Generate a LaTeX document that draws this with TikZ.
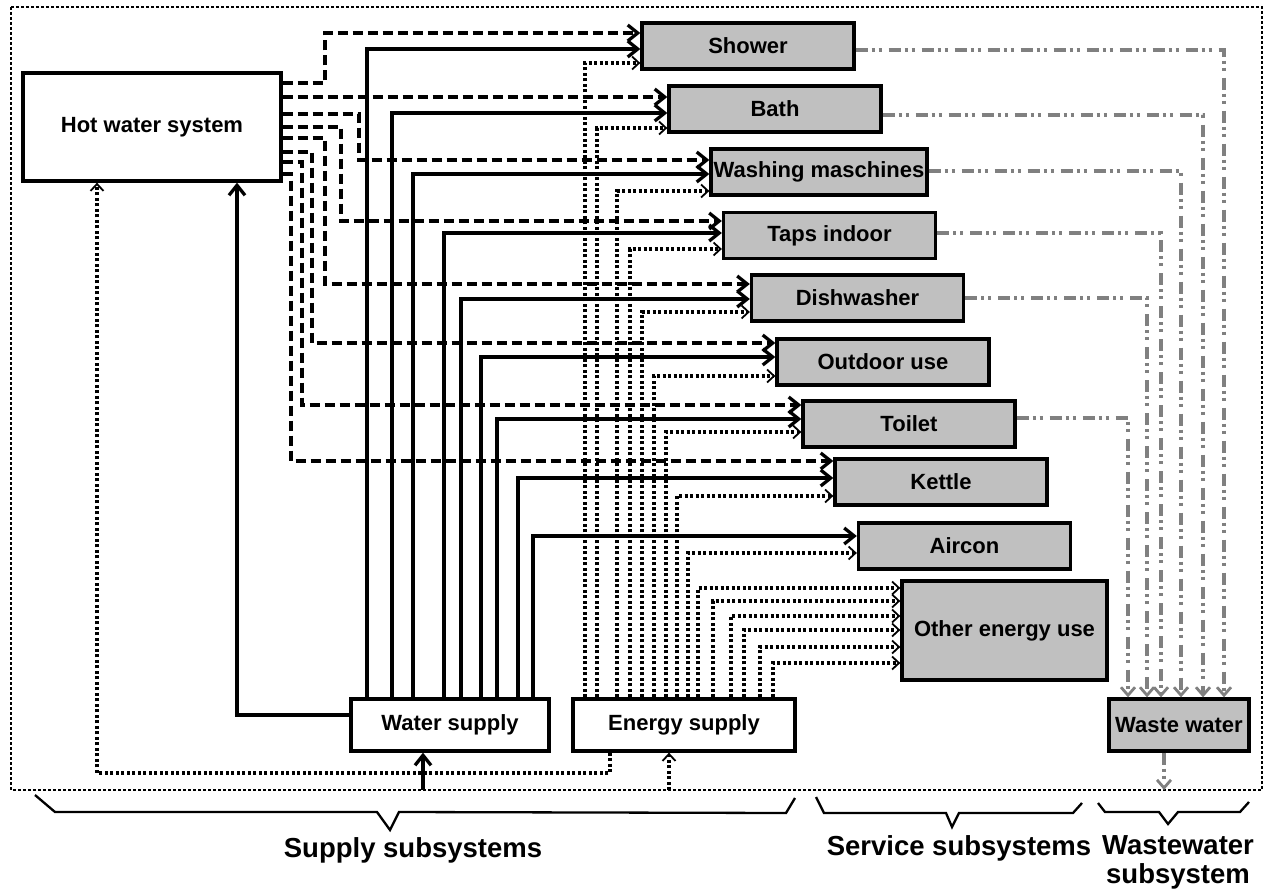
\documentclass[tikz,border=0pt]{standalone}
\usepackage{fontspec}
\setmainfont{Liberation Sans}
\usetikzlibrary{arrows.meta}

\definecolor{servicegray}{HTML}{C0C0C0}
\definecolor{wastegray}{HTML}{808080}

\tikzset{
  box/.style={draw, line width=3.3pt, fill=white, inner sep=0pt,
    font=\fontsize{22}{26}\selectfont\bfseries},
  service/.style={box, fill=servicegray, minimum width=212pt, minimum height=46pt},
  hot/.style={line width=3.3pt, dash pattern=on 10pt off 5pt,
    -{Straight Barb[length=10pt,width=16pt]}},
  cold/.style={line width=3.3pt, -{Straight Barb[length=10pt,width=16pt]}},
  power/.style={line width=3.3pt, dash pattern=on 3pt off 2.5pt,
    -{Straight Barb[length=7pt,width=13pt,line width=1.8pt]}},
  waste/.style={line width=3.3pt, draw=wastegray,
    dash pattern=on 12pt off 4pt on 3pt off 4pt on 3pt off 7pt,
    -{Straight Barb[length=8pt,width=14pt,line width=2.8pt]}},
  frame/.style={line width=1.5pt, dash pattern=on 3pt off 2pt},
  brace/.style={line width=2.3pt},
  group/.style={font=\fontsize{27.5}{29}\selectfont\bfseries, align=center}
}

\begin{document}
\begin{tikzpicture}[x=1pt, y=-1pt]
    \useasboundingbox (0,0) rectangle (1274,890);
    \draw[frame] (11,7) rectangle (1262,790);

    % subsystems
    \node[box, minimum width=258pt, minimum height=108pt] (hws) at (152,127) {Hot water system};
    \node[box, minimum width=198pt, minimum height=52pt] (water) at (450,725) {Water supply};
    \node[box, minimum width=222pt, minimum height=52pt] (energy) at (684,725) {Energy supply};
    \node[service] (shower) at (748,46) {Shower};
    \node[service] (bath) at (775,109) {Bath};
    \node[service, minimum width=216pt] (washing) at (819,172) {Washing maschines};
    \node[service] (taps) at (829.5,235.5) {Taps indoor};
    \node[service] (dishwasher) at (857.5,298) {Dishwasher};
    \node[service] (outdoor) at (883,362) {Outdoor use};
    \node[service] (toilet) at (909,424) {Toilet};
    \node[service] (kettle) at (941,482) {Kettle};
    \node[service] (aircon) at (964.5,546) {Aircon};
    \node[service, minimum width=205pt, minimum height=99pt] (other) at (1004.5,630.5) {Other energy use};
    \node[service, minimum width=140pt, minimum height=52pt] (waste) at (1179,725) {Waste water};

    \coordinate (waterin) at (423,790);
    \coordinate (energyin) at (669,790);
    \coordinate (wasteout) at (1164,790);

    % hot water
    \foreach \yo/\xb/\yi/\t in {83/325/33/shower, 97/330/97/bath, 114/359/160/washing,
        127/341/221/taps, 138/325/284/dishwasher, 152/312/343/outdoor,
        162/302/405/toilet, 174/291/461/kettle}
      \draw[hot] (hws.east |- 0,\yo) -| (\xb,\yi) -- (\t.west |- 0,\yi);

    % water
    \foreach \x/\y/\t in {367/49/shower, 392/113/bath, 413/174/washing, 444/233/taps,
        461/299/dishwasher, 481/357/outdoor, 497/419/toilet, 518/478/kettle, 533/536/aircon}
      \draw[cold] (water.north -| \x,0) |- (\t.west |- 0,\y);
    \draw[cold] (water.west |- 0,715) -| (hws.south -| 237,0);
    \draw[cold] (waterin) -- (water.south -| waterin);

    % energy
    \foreach \x/\y/\t in {585/63/shower, 597/128/bath, 617/191/washing, 630/249/taps,
        642/312/dishwasher, 654/376/outdoor, 666/432/toilet, 677/496/kettle, 688/553/aircon,
        698/588/other, 713/601/other, 731/616/other, 744/630/other, 760/647/other, 773/663/other}
      \draw[power] (energy.north -| \x,0) |- (\t.west |- 0,\y);
    \draw[power] (energy.south -| 610,0) |- (97,773) -- (hws.south -| 97,0);
    \draw[power] (energyin) -- (energy.south -| energyin);

    % waste water
    \foreach \y/\x/\s in {50/1224/shower, 115/1203/bath, 171/1181/washing,
        233/1161/taps, 298/1147/dishwasher, 418/1128/toilet}
      \draw[waste] (\s.east |- 0,\y) -| (waste.north -| \x,0);
    \draw[waste] (waste.south -| wasteout) -- (wasteout);

    % braces
    \draw[brace] (35,795) -- (55,812) -- (377,812) -- (390,830) -- (399,812) -- (786,813) -- (795,798);
    \draw[brace] (816,797) -- (824,813) -- (946,813) -- (952,827) -- (959,813) -- (1073,813) -- (1082,803);
    \draw[brace] (1098,803) -- (1105,812) -- (1159,812) -- (1168,824) -- (1178,812) -- (1240,812) -- (1249,802);
    \node[group] (supplylabel) at (413,850) {Supply subsystems};
    \node[group] (servicelabel) at (959,848) {Service subsystems};
    \node[group] (wastelabel) at (1178,862) {Wastewater\\subsystem};
\end{tikzpicture}
\end{document}
